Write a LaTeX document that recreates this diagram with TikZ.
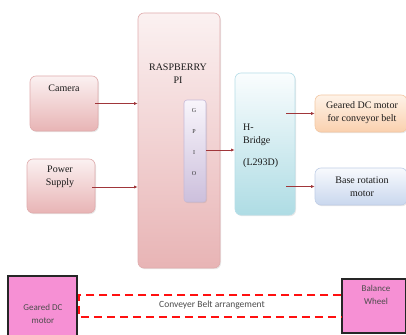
\documentclass[tikz,border=0pt]{standalone}
\usepackage{fontspec}
\setmainfont{Liberation Serif}
\newfontfamily\calib{Carlito}
\usetikzlibrary{shadows,arrows.meta}
\definecolor{arrowc}{HTML}{A0363A}
\definecolor{beltred}{HTML}{FF1010}
\definecolor{pinkbox}{HTML}{F690D4}
\definecolor{pkT}{HTML}{FBF1F1}\definecolor{pkB}{HTML}{E8B4B5}\definecolor{pkD}{HTML}{E0ACAD}
\definecolor{vT}{HTML}{F8F5FB}\definecolor{vB}{HTML}{CCBFDC}\definecolor{vD}{HTML}{C6BAD8}
\definecolor{cT}{HTML}{FAFDFE}\definecolor{cB}{HTML}{AEDCE4}\definecolor{cD}{HTML}{B6DEE8}
\definecolor{oT}{HTML}{FEF3E8}\definecolor{oB}{HTML}{FAD0AE}\definecolor{oD}{HTML}{F3C8A4}
\definecolor{bT}{HTML}{F8FAFD}\definecolor{bB}{HTML}{C9D7EE}\definecolor{bD}{HTML}{C0CEE6}
\begin{document}
\begin{tikzpicture}[x=1pt,y=-1pt,
  box/.style={draw, rounded corners=6pt, line width=0.6pt, inner sep=0pt,
    drop shadow={shadow xshift=1pt, shadow yshift=-1.2pt, opacity=0.18}},
  lbl/.style={font=\fontsize{10}{13}\selectfont, align=center, inner sep=0pt, text=black!90},
  small/.style={font=\fontsize{6}{7}\selectfont, inner sep=0pt, text=black!80},
  arr/.style={draw=arrowc, line width=0.7pt, -{Latex[length=3.5pt,width=3pt]}},
  pbox/.style={draw=black!85, fill=pinkbox, line width=1.2pt, inner sep=0pt},
  ctext/.style={font=\calib\fontsize{9}{13}\selectfont, align=center, inner sep=0pt, text=black!70},
  belt/.style={draw=beltred, line width=2.2pt, dash pattern=on 8pt off 5pt}
]
\useasboundingbox (0,0) rectangle (406,334);
\clip (0,0) rectangle (406,334);
\fill[white] (0,0) rectangle (406,334);

% boxes
\node[box, draw=pkD, top color=pkT, bottom color=pkB,
  minimum width=68pt, minimum height=55pt] (cam) at (64,103.5) {};
\node[box, draw=pkD, top color=pkT, bottom color=pkB,
  minimum width=68pt, minimum height=54pt] (pow) at (61,186) {};
\node[box, draw=pkD, top color=pkT, bottom color=pkB,
  minimum width=82pt, minimum height=255pt] (rpi) at (179,140.5) {};
\node[box, draw=vD, top color=vT, bottom color=vB,
  minimum width=22pt, minimum height=102pt, rounded corners=3pt] (gpio) at (195,151) {};
\node[box, draw=cD, top color=cT, bottom color=cB,
  minimum width=60pt, minimum height=142pt] (hb) at (265,144) {};
\node[box, draw=oD, top color=oT, bottom color=oB,
  minimum width=92pt, minimum height=37pt] (gdc) at (361,113.5) {};
\node[box, draw=bD, top color=bT, bottom color=bB,
  minimum width=92pt, minimum height=37pt] (brm) at (361,186.5) {};

% texts
\node[lbl] (camt) at (64,88) {Camera};
\node[lbl] (powt) at (60,177) {Power\\Supply};
\node[lbl] (rpit) at (178,73.5) {RASPBERRY\\PI};
\node[small] (g1) at (194,111) {G};
\node[small] (g2) at (194,132) {P};
\node[small] (g3) at (194,153) {I};
\node[small] (g4) at (194,174) {O};
\node[lbl, align=left, anchor=west] (hbt) at (243,134.5) {H-\\Bridge};
\node[lbl, anchor=west] (hbt2) at (243,163) {(L293D)};
\node[lbl] (gdct) at (362,112.5) {Geared DC motor\\for conveyor belt};
\node[lbl] (brmt) at (362,186.5) {Base rotation\\motor};

% arrows
\draw[arr] ([xshift=-3pt]cam.east) -- (cam.east -| rpi.west);
\draw[arr] ([xshift=-3pt,yshift=-1pt]pow.east) -- ([yshift=-1pt]pow.east -| rpi.west);
\draw[arr] ([yshift=1pt]gpio.east) -- ([yshift=1pt]gpio.east -| hb.west);
\draw[arr] ([xshift=-9pt]gdc.west -| hb.east) -- (gdc.west);
\draw[arr] ([xshift=-9pt]brm.west -| hb.east) -- (brm.west);

% bottom conveyor
\node[pbox, minimum width=69pt, minimum height=70pt] (gdm) at (42.5,311) {};
\node[pbox, minimum width=64pt, minimum height=54pt] (bw) at (374,306) {};
\node[ctext] (gdmt) at (43,313.5) {Geared DC\\motor};
\node[ctext] (bwt) at (376,295) {Balance\\Wheel};
\node[ctext, font=\calib\fontsize{9.5}{11}\selectfont] (belt) at (212,305) {Conveyer Belt arrangement};
\coordinate (bl1) at ([xshift=1.5pt]gdm.east |- 0,295);
\coordinate (bl2) at ([xshift=1.5pt]gdm.east |- 0,317);
\draw[belt] (bw.west |- bl1) -- (bl1) -- (bl2) -- (bw.west |- bl2);
\end{tikzpicture}
\end{document}
